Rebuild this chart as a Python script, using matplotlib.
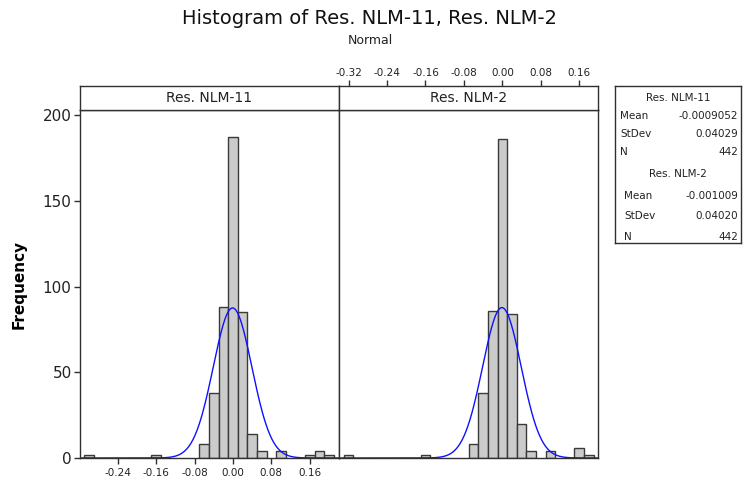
import numpy as np
import matplotlib.pyplot as plt

# Données (centres des classes, effectifs)
centres_nlm11 = [-0.30, -0.16, -0.06, -0.04, -0.02, 0.00, 0.02, 0.04, 0.06, 0.10, 0.16, 0.18, 0.20]
effectifs_nlm11 = [2, 2, 8, 38, 88, 187, 85, 14, 4, 4, 2, 4, 2]
centres_nlm2 = [-0.32, -0.16, -0.06, -0.04, -0.02, 0.00, 0.02, 0.04, 0.06, 0.10, 0.16, 0.18]
effectifs_nlm2 = [2, 2, 8, 38, 86, 186, 84, 20, 4, 4, 6, 2]
largeur_classe = 0.02

noms = ["Res. NLM-11", "Res. NLM-2"]
moyennes = [-0.0009052, -0.001009]
ecarts_types = [0.04029, 0.04020]
effectifs_totaux = [442, 442]
textes_moy = ["-0.0009052", "-0.001009"]
textes_et = ["0.04029", "0.04020"]

W, H = 744, 483
fig = plt.figure(figsize=(W / 100, H / 100), dpi=100)
plt.rcParams['font.family'] = ['DejaVu Sans']

def fx(px):
    return px / W

def fy(py):
    return 1 - py / H

gauche, milieu, droite = 80, 339, 598
haut_cadre, bas_cadre, haut_bande = 110, 458, 86
limites = [(-0.319, 0.221), (-0.34, 0.199)]
bord = '#303030'

panneaux = [(centres_nlm11, effectifs_nlm11), (centres_nlm2, effectifs_nlm2)]
for i, (centres, effs) in enumerate(panneaux):
    x0 = gauche if i == 0 else milieu
    x1 = milieu if i == 0 else droite
    ax = fig.add_axes([fx(x0), fy(bas_cadre), fx(x1 - x0), fy(haut_cadre) - fy(bas_cadre)])
    ax.bar(centres, effs, width=largeur_classe, color='#cbcbcb', edgecolor='#3a3a3a', linewidth=1.0)
    xs = np.linspace(limites[i][0], limites[i][1], 400)
    ys = effectifs_totaux[i] * largeur_classe / (ecarts_types[i] * np.sqrt(2 * np.pi)) * \
        np.exp(-0.5 * ((xs - moyennes[i]) / ecarts_types[i]) ** 2)
    ax.plot(xs, ys, color='#1010ff', linewidth=1.0)
    ax.set_xlim(*limites[i])
    ax.set_ylim(0, 203)
    for s in ax.spines.values():
        s.set_color(bord)
        s.set_linewidth(1.0)
    ax.tick_params(direction='out', length=4, width=1, color=bord, labelcolor='#222222')
    if i == 0:
        ax.set_xticks(np.arange(-0.24, 0.17, 0.08))
        ax.set_xticklabels(['-0.24', '-0.16', '-0.08', '0.00', '0.08', '0.16'], fontsize=7.5)
        ax.set_yticks([0, 50, 100, 150, 200])
        ax.tick_params(axis='y', labelsize=11, pad=2)
        ax.tick_params(axis='x', pad=3)
        ax.set_ylabel('Frequency', fontsize=11, fontweight='bold', labelpad=12)
    else:
        ax.set_xticks([])
        ax.set_yticks([])

    # bande de titre du panneau
    bande = fig.add_axes([fx(x0), fy(haut_cadre), fx(x1 - x0), fy(haut_bande) - fy(haut_cadre)])
    bande.set_xlim(*limites[i])
    bande.set_yticks([])
    for s in bande.spines.values():
        s.set_color(bord)
        s.set_linewidth(1.0)
    bande.text(0.5, 0.5, noms[i], transform=bande.transAxes, ha='center', va='center',
               fontsize=10, color='#222222')
    if i == 1:
        bande.xaxis.tick_top()
        bande.set_xticks(np.arange(-0.32, 0.17, 0.08))
        bande.set_xticklabels(['-0.32', '-0.24', '-0.16', '-0.08', '0.00', '0.08', '0.16'], fontsize=7.5)
        bande.tick_params(axis='x', direction='out', length=4, width=1, color=bord,
                          labelcolor='#222222', pad=2)
    else:
        bande.set_xticks([])

fig.text(fx(370), fy(18), 'Histogram of Res. NLM-11, Res. NLM-2', ha='center', va='center',
         fontsize=14, color='#111111')
fig.text(fx(370), fy(40), 'Normal', ha='center', va='center', fontsize=9, color='#222222')

# encadré des statistiques
boite = fig.add_axes([fx(615), fy(243), fx(741 - 615), fy(86) - fy(243)])
boite.set_xticks([])
boite.set_yticks([])
boite.set_xlim(615, 741)
boite.set_ylim(243, 86)
for s in boite.spines.values():
    s.set_color(bord)
    s.set_linewidth(1.0)
lignes_y = [[98, 116, 134, 152], [174, 196, 216, 237]]
for k in range(2):
    yy = lignes_y[k]
    xg = 620 if k == 0 else 624
    boite.text(678, yy[0], noms[k], ha='center', va='center', fontsize=7.5, color='#222222')
    boite.text(xg, yy[1], 'Mean', ha='left', va='center', fontsize=7.5, color='#222222')
    boite.text(738, yy[1], textes_moy[k], ha='right', va='center', fontsize=7.5, color='#222222')
    boite.text(xg, yy[2], 'StDev', ha='left', va='center', fontsize=7.5, color='#222222')
    boite.text(738, yy[2], textes_et[k], ha='right', va='center', fontsize=7.5, color='#222222')
    boite.text(xg, yy[3], 'N', ha='left', va='center', fontsize=7.5, color='#222222')
    boite.text(738, yy[3], str(effectifs_totaux[k]), ha='right', va='center', fontsize=7.5, color='#222222')

fig.savefig('out.png', dpi=100)
